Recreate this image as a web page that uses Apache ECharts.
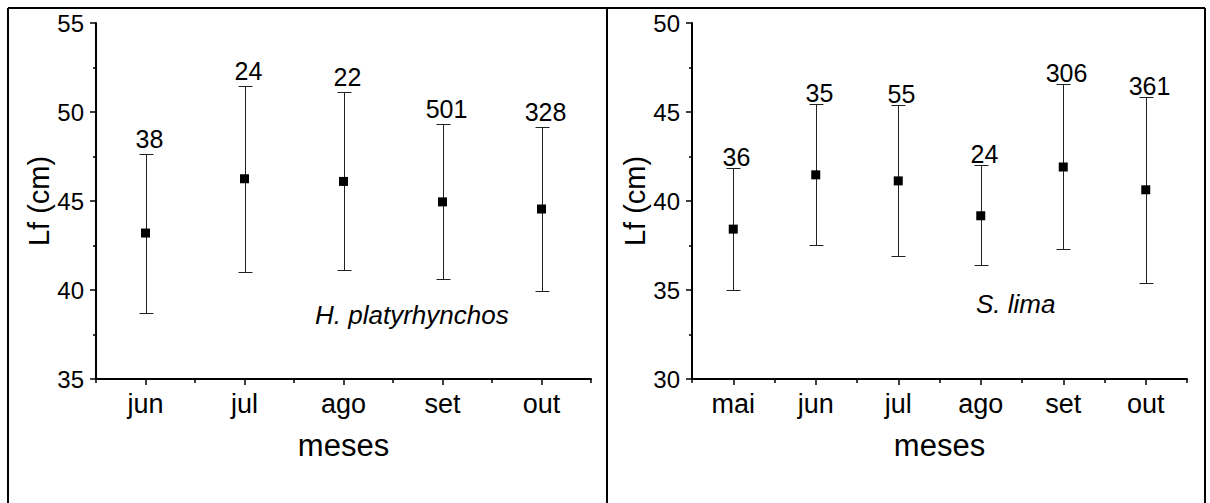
<!DOCTYPE html>
<html>
<head>
<meta charset="utf-8">
<script src="https://cdn.jsdelivr.net/npm/echarts@6/dist/echarts.min.js"></script>
<style>
  html, body { margin: 0; padding: 0; background: #fff; }
  #chart { width: 1210px; height: 503px; }
</style>
</head>
<body>
<div id="chart"></div>
<script>
// ---- data ----
const leftMonths = ['jun', 'jul', 'ago', 'set', 'out'];
const leftMean   = [43.2, 46.25, 46.1, 44.95, 44.55];
const leftUpper  = [47.65, 51.45, 51.13, 49.33, 49.13];
const leftLower  = [38.7, 41.0, 41.1, 40.6, 39.92];
const leftN      = [38, 24, 22, 501, 328];

const rightMonths = ['mai', 'jun', 'jul', 'ago', 'set', 'out'];
const rightMean   = [38.42, 41.47, 41.13, 39.17, 41.91, 40.63];
const rightUpper  = [41.88, 45.44, 45.41, 42.03, 46.6, 45.87];
const rightLower  = [34.99, 37.54, 36.89, 36.42, 37.3, 35.4];
const rightN      = [36, 35, 55, 24, 306, 361];

const leftTicks  = { min: 35, max: 55, interval: 5 };
const rightTicks = { min: 30, max: 50, interval: 5 };

const leftSpecies = 'H. platyrhynchos';
const rightSpecies = 'S. lima';
const xName = 'meses';
const yName = 'Lf (cm)';

// ---- styles ----
const FONT = '"Liberation Sans", Arial, sans-serif';
const INK = '#000';

const chart = echarts.init(document.getElementById('chart'), null, { renderer: 'svg' });

function mainX(gridIndex, cats) {
  return {
    type: 'category', gridIndex, data: cats, position: 'bottom', boundaryGap: true,
    axisLine: { show: true, lineStyle: { color: INK, width: 2 } },
    axisTick: { show: true, alignWithLabel: false, inside: false, length: 4, lineStyle: { color: INK, width: 1.5 } },
    axisLabel: { show: true, color: INK, fontFamily: FONT, fontSize: 27, margin: 11 },
    splitLine: { show: false },
    name: xName, nameLocation: 'middle', nameGap: 51,
    nameTextStyle: { color: INK, fontFamily: FONT, fontSize: 31 }
  };
}
function centerX(gridIndex, cats) {
  return {
    type: 'category', gridIndex, data: cats, position: 'bottom', boundaryGap: true,
    axisLine: { show: false },
    axisTick: { show: true, alignWithLabel: true, inside: false, length: 6, lineStyle: { color: INK, width: 1.5 } },
    axisLabel: { show: false },
    splitLine: { show: false }
  };
}
function yAx(gridIndex, t) {
  return {
    type: 'value', gridIndex, min: t.min, max: t.max, interval: t.interval,
    axisLine: { show: true, lineStyle: { color: INK, width: 2 } },
    axisTick: { show: true, length: 6, lineStyle: { color: INK, width: 1.5 } },
    minorTick: { show: true, splitNumber: 2, length: 3, lineStyle: { color: INK, width: 1.5 } },
    axisLabel: { color: INK, fontFamily: FONT, fontSize: 24, margin: 12 },
    splitLine: { show: false },
    name: yName, nameLocation: 'middle', nameGap: 42, nameRotate: 90,
    nameTextStyle: { color: INK, fontFamily: FONT, fontSize: 29 }
  };
}

function errData(lower, upper, n) {
  return lower.map((lo, i) => [i, lo, upper[i], n[i]]);
}
function makeRender(labelGap) {
  return function (params, api) {
    const i = api.value(0), lo = api.value(1), hi = api.value(2), n = api.value(3);
    const pHi = api.coord([i, hi]);
    const pLo = api.coord([i, lo]);
    const x = Math.round(pHi[0]) + 0.5;
    const yH = Math.round(pHi[1]) + 0.5;
    const yL = Math.round(pLo[1]) + 0.5;
    const half = 7;
    const st = { stroke: '#222', lineWidth: 1 };
    return {
      type: 'group',
      children: [
        { type: 'line', shape: { x1: x, y1: yH, x2: x, y2: yL }, style: st },
        { type: 'line', shape: { x1: x - half, y1: yH, x2: x + half, y2: yH }, style: st },
        { type: 'line', shape: { x1: x - half, y1: yL, x2: x + half, y2: yL }, style: st },
        { type: 'text', style: { text: String(n), x: x + 3, y: yH - labelGap, textAlign: 'center', textVerticalAlign: 'bottom',
          fontFamily: FONT, fontSize: 25, fill: INK } }
      ]
    };
  };
}

const option = {
  animation: false,
  backgroundColor: '#fff',
  grid: [
    { left: 96, top: 23, width: 495, height: 356, containLabel: false },
    { left: 692, top: 23, width: 495, height: 356, containLabel: false }
  ],
  xAxis: [mainX(0, leftMonths), centerX(0, leftMonths), mainX(1, rightMonths), centerX(1, rightMonths)],
  yAxis: [yAx(0, leftTicks), yAx(1, rightTicks)],
  series: [
    { type: 'custom', xAxisIndex: 0, yAxisIndex: 0, renderItem: makeRender(3), encode: { x: 0, y: [1, 2] },
      data: errData(leftLower, leftUpper, leftN), z: 2 },
    { type: 'scatter', xAxisIndex: 0, yAxisIndex: 0, symbol: 'rect', symbolSize: 9, itemStyle: { color: INK, opacity: 1 },
      data: leftMean.map((v, i) => [i, v]), z: 3 },
    { type: 'custom', xAxisIndex: 2, yAxisIndex: 1, renderItem: makeRender(-1), encode: { x: 0, y: [1, 2] },
      data: errData(rightLower, rightUpper, rightN), z: 2 },
    { type: 'scatter', xAxisIndex: 2, yAxisIndex: 1, symbol: 'rect', symbolSize: 9, itemStyle: { color: INK, opacity: 1 },
      data: rightMean.map((v, i) => [i, v]), z: 3 }
  ],
  graphic: [
    { type: 'line', shape: { x1: 8, y1: 8, x2: 1205, y2: 8 }, style: { stroke: INK, lineWidth: 2 } },
    { type: 'line', shape: { x1: 8, y1: 8, x2: 8, y2: 503 }, style: { stroke: INK, lineWidth: 2 } },
    { type: 'line', shape: { x1: 607, y1: 8, x2: 607, y2: 503 }, style: { stroke: INK, lineWidth: 2 } },
    { type: 'line', shape: { x1: 1205, y1: 8, x2: 1205, y2: 503 }, style: { stroke: INK, lineWidth: 2 } },
    { type: 'text', left: 315, top: 302, style: { text: leftSpecies, fontFamily: FONT, fontSize: 26, fontStyle: 'italic', fill: INK } },
    { type: 'text', left: 976, top: 291, style: { text: rightSpecies, fontFamily: FONT, fontSize: 26, fontStyle: 'italic', fill: INK } }
  ]
};
chart.setOption(option);
</script>
</body>
</html>
